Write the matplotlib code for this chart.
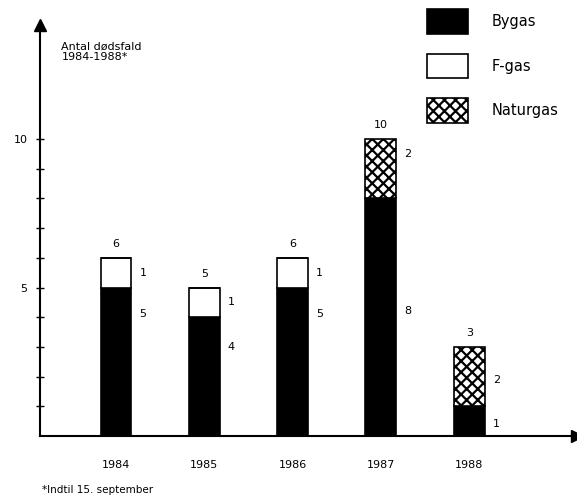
import matplotlib.pyplot as plt
import numpy as np

plt.rcParams['hatch.linewidth'] = 1.6

years = ['1984', '1985', '1986', '1987', '1988']
bygas = [5, 4, 5, 8, 1]
fgas = [1, 1, 1, 0, 0]
naturgas = [0, 0, 0, 2, 2]

# where the segment labels sit (data units), as in the original print
bygas_label_y = [4.1, 3.0, 4.1, 4.2, 0.4]
fgas_label_y = [5.5, 4.5, 5.5, None, None]
natur_label_y = [None, None, None, 9.5, 1.9]

x = np.arange(len(years))
bygas = np.array(bygas)
fgas = np.array(fgas)
naturgas = np.array(naturgas)
totals = bygas + fgas + naturgas

fig = plt.figure(figsize=(5.77, 5.0), dpi=100)
# axes box in pixels: left 40, right 577, bottom 436, top 25
ax = fig.add_axes([40 / 577, 64 / 500, 537 / 577, 411 / 500])

w = 0.35
ax.bar(x, bygas, w, color='black', edgecolor='black', linewidth=1.2, label='Bygas')
ax.bar(x, fgas, w, bottom=bygas, color='white', edgecolor='black', linewidth=1.2, label='F-gas')
ax.bar(x, naturgas, w, bottom=bygas + fgas, color='white', edgecolor='black',
       linewidth=1.2, hatch='xxx', label='Naturgas')

ax.set_xlim(-0.86, 5.22)
ax.set_ylim(0, 13.84)

# labels
dx = w / 2 + 0.09
for i in range(len(years)):
    ax.text(x[i], totals[i] + 0.3, str(totals[i]), ha='center', va='bottom', fontsize=8)
    ax.text(x[i] + dx, bygas_label_y[i], str(bygas[i]), ha='left', va='center', fontsize=8)
    if fgas[i] > 0:
        ax.text(x[i] + dx, fgas_label_y[i], str(fgas[i]), ha='left', va='center', fontsize=8)
    if naturgas[i] > 0:
        ax.text(x[i] + dx, natur_label_y[i], str(naturgas[i]), ha='left', va='center', fontsize=8)

# axes with arrows
for s in ['top', 'right']:
    ax.spines[s].set_visible(False)
ax.spines['left'].set_linewidth(1.5)
ax.spines['bottom'].set_linewidth(1.5)
ax.plot(1, 0, marker='>', color='black', markersize=9, transform=ax.transAxes, clip_on=False)
ax.plot(0, 1, marker='^', color='black', markersize=9, transform=ax.transAxes, clip_on=False)

ax.set_yticks(range(1, 11))
ax.set_yticklabels(['', '', '', '', '5', '', '', '', '', '10'])
ax.tick_params(axis='y', direction='inout', length=6, width=1, labelsize=8, pad=6)
ax.set_xticks(x)
ax.set_xticklabels(years)
ax.tick_params(axis='x', length=0, labelsize=8, pad=17)

ax.text(0.04, 0.96, 'Antal dødsfald\n1984-1988*', transform=ax.transAxes,
        fontsize=8, va='top', ha='left', linespacing=1.1)
fig.text(42 / 577, 1 - 490 / 500, '*Indtil 15. september', fontsize=7.5, va='center')

ax.legend(loc='upper right', bbox_to_anchor=(0.99, 1.07), frameon=False, fontsize=10.5,
          handlelength=2.8, handleheight=2.2, labelspacing=1.38, handletextpad=1.6)

fig.savefig('out.png', dpi=100)
